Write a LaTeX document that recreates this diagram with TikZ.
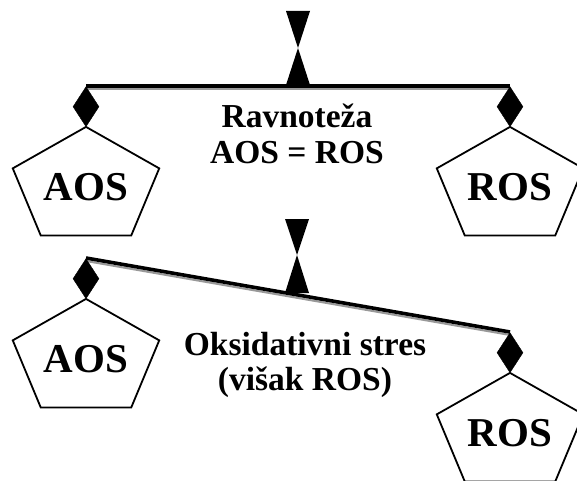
\documentclass[tikz,border=0pt]{standalone}
\usepackage{fontspec}
\setmainfont{Liberation Serif}
\usetikzlibrary{shapes.geometric,positioning,calc}
\tikzstyle{knot}=[diamond,fill=black,draw=black,minimum width=26pt,minimum height=40pt,inner sep=0pt]
\tikzstyle{beam}=[line width=3.6pt,draw=black]
\tikzstyle{shade}=[line width=2pt,draw=black!40]
\tikzstyle{pent}=[line width=1.8pt,line join=miter]
\tikzstyle{plate}=[font=\fontsize{41}{41}\selectfont\bfseries,inner sep=0pt]
\tikzstyle{annot}=[align=center,font=\fontsize{33.5}{35}\selectfont\bfseries,inner sep=0pt]
\newcommand{\pentagon}[1]
{
  \draw[pent, shift={(#1.center)}] (90:77 and 60) -- (162:77 and 60) -- (234:77 and 60) -- (306:77 and 60) -- (18:77 and 60) -- cycle;
}
\newcommand{\fulcrum}[3]
{
  \fill (#1) -- ($(#1)+(-12,#2)$) -- ($(#1)+(12,#2)$) -- cycle;
  \fill (#1) -- ($(#1)+(-12,-#3)$) -- ($(#1)+(12,-#3)$) -- cycle;
}

\begin{document}
\begin{tikzpicture}[x=1pt,y=1pt]
	\useasboundingbox (0,0) rectangle (577,480);
	\clip (0,0) rectangle (577,480);

	% balance
	\coordinate (b1l) at (86,394);
	\coordinate (b1r) at (510,394);
	\coordinate (f1) at (298,432);
	\fulcrum{f1}{37}{37}
	\draw[shade] ([yshift=-3pt]b1l) -- ([yshift=-3pt]b1r);
	\draw[beam] (b1l) -- (b1r);
	\node[knot, below=0.5pt of b1l](k1){};
	\node[knot, below=0.5pt of b1r](k2){};
	\coordinate[below=60pt of k1.south] (c1);
	\coordinate[below=60pt of k2.south] (c2);
	\node[plate](aos1) at (c1){AOS};
	\node[plate](ros1) at (c2){ROS};
	\pentagon{aos1}
	\pentagon{ros1}
	\node[annot, anchor=base](eq) at (297,317){Ravnoteža\\AOS = ROS};

	% stress
	\coordinate (b2l) at (86,222);
	\coordinate (b2r) at (510,148);
	\coordinate (f2) at (297,225);
	\fulcrum{f2}{36}{38}
	\draw[shade] ([yshift=-3pt]b2l) -- ([yshift=-3pt]b2r);
	\draw[beam] (b2l) -- (b2r);
	\node[knot, below=0.5pt of b2l](k3){};
	\node[knot, below=0.5pt of b2r](k4){};
	\coordinate[below=60pt of k3.south] (c3);
	\coordinate[below=60pt of k4.south] (c4);
	\node[plate](aos2) at (c3){AOS};
	\node[plate](ros2) at (c4){ROS};
	\pentagon{aos2}
	\pentagon{ros2}
	\node[annot, anchor=base](ox) at (305,90){Oksidativni stres\\(višak ROS)};

\end{tikzpicture}
\end{document}
